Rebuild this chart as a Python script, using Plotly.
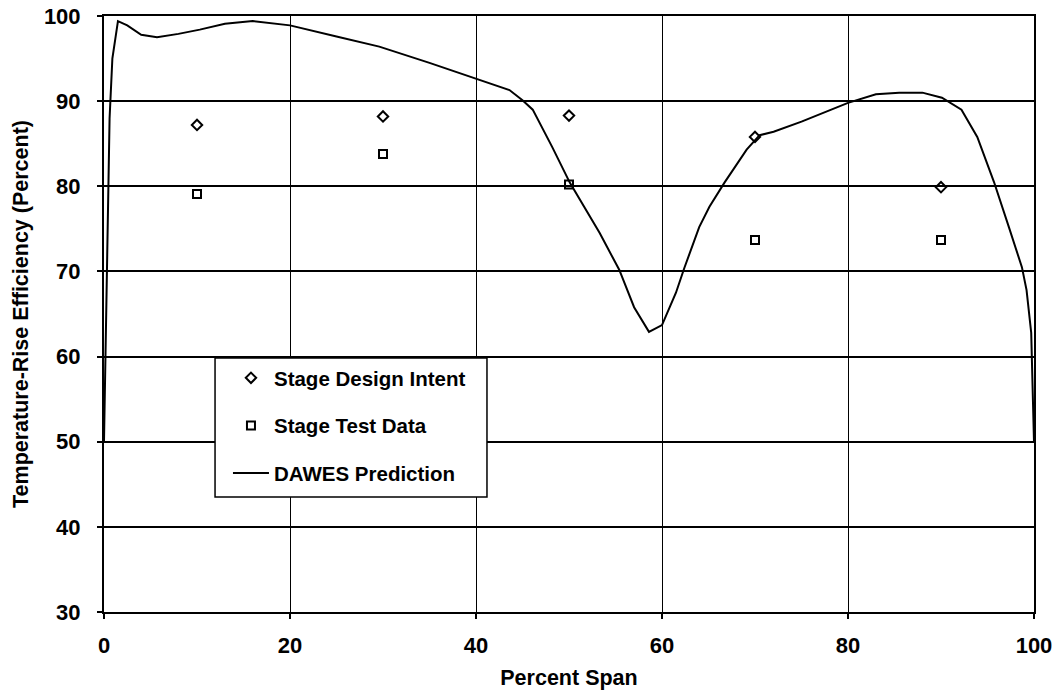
import plotly.graph_objects as go

# Measured spans
span_points = [10, 30, 50, 70, 90]
design_intent = [87.2, 88.2, 88.3, 85.8, 79.9]
test_data = [79.1, 83.8, 80.2, 73.7, 73.7]

# DAWES prediction curve
dawes_x = [0.0, 0.2, 0.4, 0.6, 0.9, 1.5, 2.5, 4.0, 5.7, 8.0, 10.3, 13.0, 16.0, 20.0, 25.0,
           29.6, 35.0, 39.8, 43.6, 45.0, 46.1, 48.2, 50.1, 53.3, 55.4, 57.0, 58.6, 60.0,
           61.5, 62.4, 64.0, 65.1, 66.7, 69.1, 70.5, 72.0, 75.0, 80.0, 83.0, 85.5, 88.0,
           90.1, 92.2, 93.9, 95.7, 97.3, 98.7, 99.2, 99.7, 100.0]
dawes_y = [50.0, 62.0, 76.0, 88.0, 95.0, 99.4, 98.9, 97.8, 97.5, 97.9, 98.4, 99.1, 99.4, 98.9, 97.6,
           96.4, 94.5, 92.7, 91.3, 90.1, 89.0, 84.6, 80.4, 74.5, 70.2, 65.8, 62.9, 63.7,
           67.5, 70.4, 75.2, 77.6, 80.4, 84.3, 86.0, 86.4, 87.6, 89.8, 90.8, 91.0, 91.0,
           90.4, 89.0, 85.8, 80.5, 75.2, 70.5, 67.8, 62.8, 50.0]

x_ticks = [0, 20, 40, 60, 80, 100]
y_ticks = [30, 40, 50, 60, 70, 80, 90, 100]

FONT = "Liberation Sans, Arial, sans-serif"

fig = go.Figure()
fig.add_trace(go.Scatter(
    x=span_points, y=design_intent, mode="markers", name="Stage Design Intent",
    legendgroup="a",
    marker=dict(symbol="diamond-open", size=8, color="black", line=dict(width=2, color="black")),
))
fig.add_trace(go.Scatter(
    x=span_points, y=test_data, mode="markers", name="Stage Test Data",
    legendgroup="b",
    marker=dict(symbol="square-open", size=8, color="black", line=dict(width=2, color="black")),
))
fig.add_trace(go.Scatter(
    x=dawes_x, y=dawes_y, mode="lines", name="DAWES Prediction",
    legendgroup="c",
    line=dict(color="black", width=2),
))

# legend frame (white box with black border, covering the grid)
fig.add_shape(
    type="rect", xref="paper", yref="paper",
    x0=0.1194, x1=0.4118, y0=0.193, y1=0.4262,
    fillcolor="white", line=dict(color="black", width=1.5), layer="above",
)

fig.update_layout(
    width=1060, height=696,
    margin=dict(l=104, r=26, t=16, b=84),
    paper_bgcolor="white", plot_bgcolor="white",
    font=dict(family=FONT, color="black"),
    showlegend=True,
    legend=dict(
        x=0.1333, y=0.4262, xanchor="left", yanchor="top",
        borderwidth=0, bgcolor="rgba(0,0,0,0)",
        font=dict(size=20.5, family=FONT, color="black", weight="bold"),
        traceorder="grouped", tracegroupgap=18,
        itemwidth=36,
    ),
    xaxis=dict(
        range=[0, 100], tickvals=x_ticks, ticktext=[str(v) for v in x_ticks],
        showgrid=True, gridcolor="black", gridwidth=1,
        showline=True, linecolor="black", linewidth=2, mirror=True,
        ticks="outside", ticklen=5, tickcolor="black", tickwidth=1.5,
        tickfont=dict(size=22, family=FONT, color="black", weight="bold"),
        ticklabelstandoff=8, ticklabeloverflow="allow",
        zeroline=False, automargin=False,
        title=dict(text="Percent Span", font=dict(size=21.5, family=FONT, color="black", weight="bold"), standoff=13),
    ),
    yaxis=dict(
        range=[30, 100], tickvals=y_ticks, ticktext=[str(v) for v in y_ticks],
        showgrid=True, gridcolor="black", gridwidth=1.5,
        showline=True, linecolor="black", linewidth=2, mirror=True,
        ticks="outside", ticklen=5, tickcolor="black", tickwidth=1.5,
        tickfont=dict(size=22, family=FONT, color="black", weight="bold"),
        ticklabelstandoff=12, ticklabeloverflow="allow",
        zeroline=False, automargin=False,
        title=dict(text="Temperature-Rise Efficiency (Percent)", font=dict(size=21.5, family=FONT, color="black", weight="bold"), standoff=9),
    ),
)

fig.write_html("out.html", config={"displayModeBar": False},
               post_script="document.body.style.margin='0';")
